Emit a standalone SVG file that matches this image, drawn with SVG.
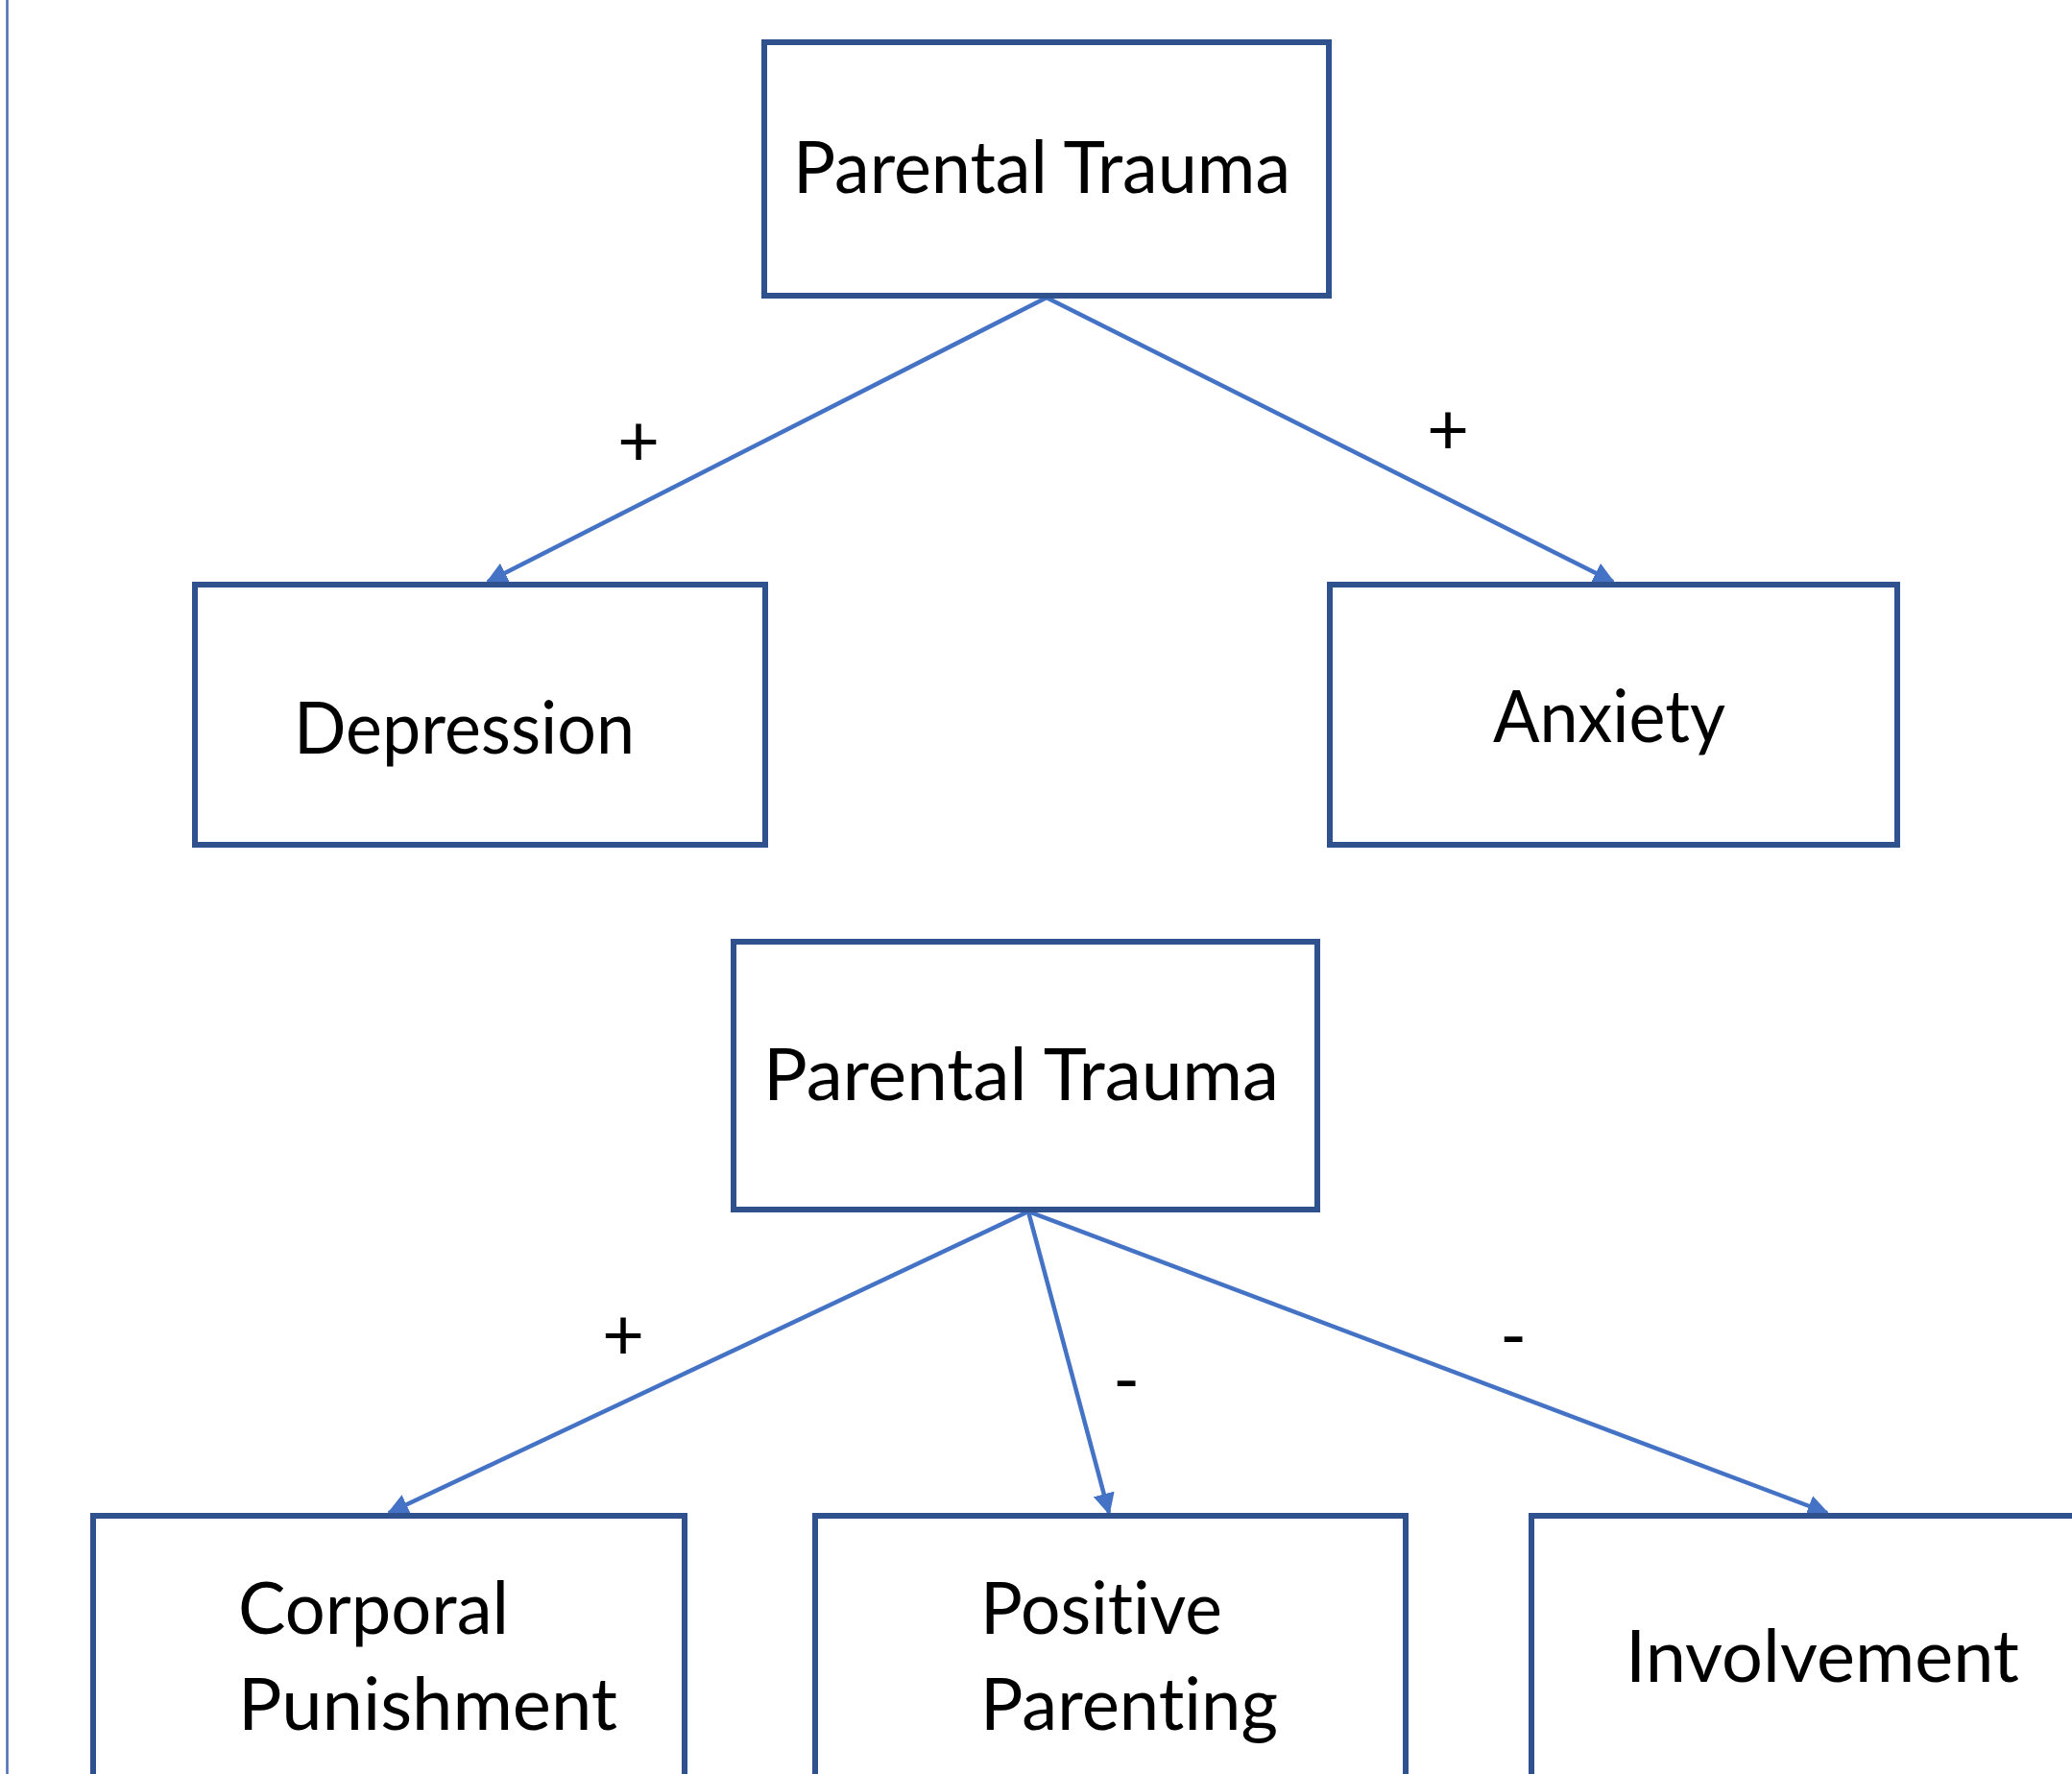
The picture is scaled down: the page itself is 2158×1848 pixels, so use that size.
<svg xmlns="http://www.w3.org/2000/svg" width="2158" height="1848" viewBox="0 0 2158 1848">
<style>
.box{fill:#fff;stroke:#2F528F;stroke-width:6}
.lbl{font-family:Lato,"Liberation Sans",sans-serif;font-size:76px;fill:#000;font-variant-ligatures:none;font-feature-settings:"liga" 0}
.sign{font-family:Lato,"Liberation Sans",sans-serif;font-size:76px;fill:#000;text-anchor:middle}
.conn{stroke:#4472C4;stroke-width:4.5;fill:none;marker-end:url(#ah)}
</style>
<defs>
<marker id="ah" viewBox="0 0 10 10" refX="9" refY="5" markerWidth="5" markerHeight="5" orient="auto" markerUnits="strokeWidth">
<path d="M0,0 L10,5 L0,10 z" fill="#4472C4"/>
</marker>
</defs>
<rect x="0" y="0" width="2158" height="1848" fill="#fff"/>
<line x1="7.5" y1="0" x2="7.5" y2="1848" stroke="#4A6DB3" stroke-width="2.5"/>

<g id="connectors">
<line class="conn" x1="1090" y1="310" x2="508" y2="606"/>
<line class="conn" x1="1090" y1="310" x2="1680" y2="606"/>
<line class="conn" x1="1071" y1="1262" x2="405" y2="1576"/>
<line class="conn" x1="1071" y1="1262" x2="1155" y2="1576"/>
<line class="conn" x1="1071" y1="1262" x2="1903" y2="1576"/>
<text class="sign" x="665" y="486">+</text>
<text class="sign" x="1508" y="474">+</text>
<text class="sign" x="649" y="1417">+</text>
<text class="sign" x="1173" y="1464">-</text>
<text class="sign" x="1576" y="1418">-</text>
</g>

<g id="node-parental-trauma-1">
<rect class="box" x="796" y="44" width="588" height="264"/>
<text class="lbl" x="826" y="201" textLength="518" lengthAdjust="spacingAndGlyphs">Parental Trauma</text>
</g>
<g id="node-depression">
<rect class="box" x="203" y="609" width="594" height="271"/>
<text class="lbl" x="306" y="785" textLength="355" lengthAdjust="spacingAndGlyphs">Depression</text>
</g>
<g id="node-anxiety">
<rect class="box" x="1385" y="609" width="591" height="271"/>
<text class="lbl" x="1555" y="773" textLength="242" lengthAdjust="spacingAndGlyphs">Anxiety</text>
</g>
<g id="node-parental-trauma-2">
<rect class="box" x="764" y="981" width="608" height="279"/>
<text class="lbl" x="795" y="1146" textLength="537" lengthAdjust="spacingAndGlyphs">Parental Trauma</text>
</g>
<g id="node-corporal-punishment">
<rect class="box" x="97" y="1579" width="616" height="320"/>
<text class="lbl" x="248" y="1702" textLength="282" lengthAdjust="spacingAndGlyphs">Corporal</text>
<text class="lbl" x="248" y="1802" textLength="395" lengthAdjust="spacingAndGlyphs">Punishment</text>
</g>
<g id="node-positive-parenting">
<rect class="box" x="849" y="1579" width="615" height="320"/>
<text class="lbl" x="1021" y="1702" textLength="252" lengthAdjust="spacingAndGlyphs">Positive</text>
<text class="lbl" x="1021" y="1802" textLength="310" lengthAdjust="spacingAndGlyphs">Parenting</text>
</g>
<g id="node-involvement">
<rect class="box" x="1595" y="1579" width="700" height="320"/>
<text class="lbl" x="1693" y="1752" textLength="410" lengthAdjust="spacingAndGlyphs">Involvement</text>
</g>
</svg>
